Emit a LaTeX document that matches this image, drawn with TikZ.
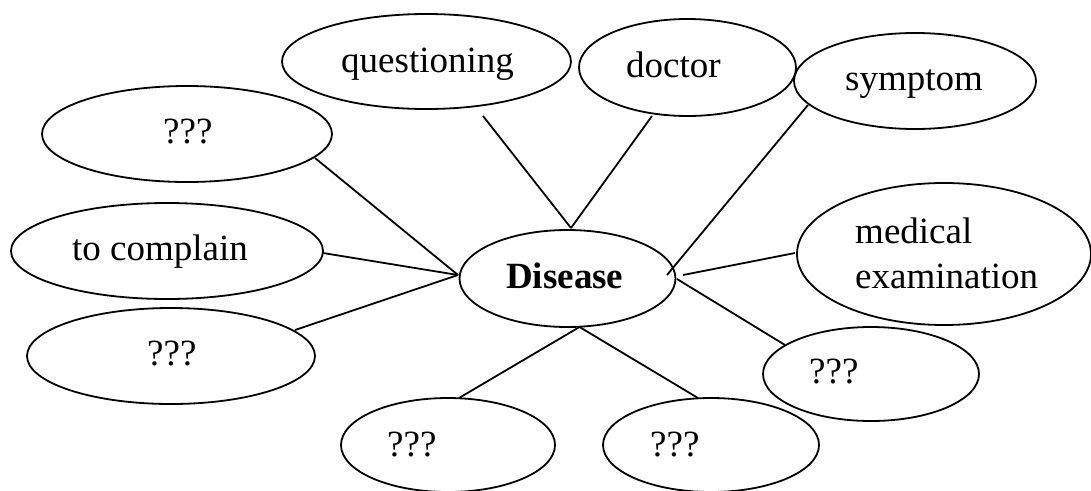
\documentclass[tikz,border=0pt]{standalone}
\usepackage{fontspec}
\setmainfont{Liberation Serif}
\usetikzlibrary{shapes.geometric}
\begin{document}
\begin{tikzpicture}[x=1pt,y=-1pt,
  bubble/.style={draw, ellipse, line width=1.8pt, inner sep=0pt},
  lbl/.style={anchor=base west, inner sep=0pt, font=\fontsize{37}{45}\selectfont},
  link/.style={line width=1.8pt}]
\useasboundingbox (0,0) rectangle (1091,490);
% ellipses
\node[bubble, minimum width=289pt, minimum height=95pt] (questioning) at (426.5,61.5) {};
\node[bubble, minimum width=217pt, minimum height=97pt] (doctor) at (687.5,67.5) {};
\node[bubble, minimum width=242pt, minimum height=96pt] (symptom) at (915,81) {};
\node[bubble, minimum width=290pt, minimum height=96pt] (qtl) at (187,134) {};
\node[bubble, minimum width=312pt, minimum height=96pt] (complain) at (167,251) {};
\node[bubble, minimum width=288pt, minimum height=96pt] (ql) at (171,356) {};
\node[bubble, minimum width=216pt, minimum height=97pt] (disease) at (567.5,278.5) {};
\node[bubble, minimum width=294pt, minimum height=142pt] (medical) at (944,254) {};
\node[bubble, minimum width=216pt, minimum height=94pt] (qr) at (871,374) {};
\node[bubble, minimum width=214pt, minimum height=94pt] (qbl) at (448,445) {};
\node[bubble, minimum width=216pt, minimum height=94pt] (qbr) at (711,445) {};
% texts
\node[lbl] (tquestioning) at (341,72) {questioning};
\node[lbl] (tdoctor) at (626,77) {doctor};
\node[lbl] (tsymptom) at (845,90) {symptom};
\node[lbl] (tqtl) at (163,143) {???};
\node[lbl] (tcomplain) at (72,260) {to complain};
\node[lbl] (tql) at (147,365) {???};
\node[lbl, font=\fontsize{37}{45}\selectfont\bfseries] (tdisease) at (506,288) {Disease};
\node[lbl] (tmedical) at (855,243) {medical};
\node[lbl] (texam) at (855,288) {examination};
\node[lbl] (tqr) at (809,383) {???};
\node[lbl] (tqbl) at (387,456) {???};
\node[lbl] (tqbr) at (650,456) {???};
% connector ends
\coordinate (hubL) at (458,275);
\coordinate (hubT) at (571,228);
\coordinate (hubB) at (579.5,327);
\coordinate (eqtl) at (315,158);
\coordinate (ecomplain) at (323,253);
\coordinate (eql) at (295,330);
\coordinate (equestioning) at (483,116);
\coordinate (edoctor) at (652,116);
\coordinate (esymptom) at (808,105);
\coordinate (dsymptom) at (667,275);
\coordinate (dmedical) at (683,275);
\coordinate (emedical) at (795,253);
\coordinate (dqr) at (677,279);
\coordinate (eqr) at (785,345);
\coordinate (eqbl) at (459,398);
\coordinate (eqbr) at (698,398);
% connectors
\draw[link] (eqtl) -- (hubL);
\draw[link] (ecomplain) -- (hubL);
\draw[link] (eql) -- (hubL);
\draw[link] (equestioning) -- (hubT);
\draw[link] (edoctor) -- (hubT);
\draw[link] (esymptom) -- (dsymptom);
\draw[link] (dmedical) -- (emedical);
\draw[link] (dqr) -- (eqr);
\draw[link] (hubB) -- (eqbl);
\draw[link] (hubB) -- (eqbr);
\end{tikzpicture}
\end{document}
